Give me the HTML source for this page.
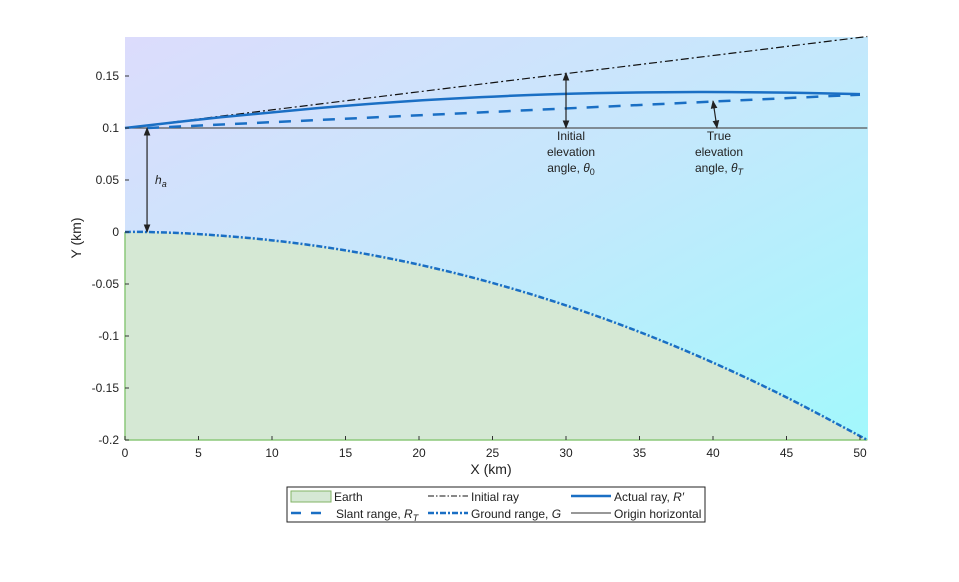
<!DOCTYPE html>
<html><head><meta charset="utf-8"><style>
body{margin:0;background:#fff;font-family:"Liberation Sans",Arial,sans-serif;}
svg text{font-family:"Liberation Sans",Arial,sans-serif;}
</style></head><body>
<svg id="chart" width="959" height="577" viewBox="0 0 959 577">
<defs>
<linearGradient id="bg" x1="0" y1="0" x2="1" y2="1">
<stop offset="0" stop-color="#dcdcfc"/><stop offset="0.5" stop-color="#c4e8fc"/><stop offset="1" stop-color="#a2f8fc"/>
</linearGradient>
<marker id="ah" viewBox="0 0 10 10" refX="9" refY="5" markerWidth="7" markerHeight="7" orient="auto-start-reverse"><path d="M0,1 L10,5 L0,9 Z" fill="#222"/></marker>
</defs>
<rect x="125" y="37" width="743" height="403" fill="url(#bg)"/>
<g id="marks"></g>
<g id="axes"></g>
<text x="491" y="474" text-anchor="middle" font-size="14" fill="#222">X (km)</text>
<text x="81" y="238" text-anchor="middle" font-size="14" fill="#222" transform="rotate(-90 81 238)">Y (km)</text>
<text x="155" y="184" font-size="12" font-style="italic" fill="#222">h<tspan font-size="9" dy="3">a</tspan></text>
<g font-size="12" fill="#222" text-anchor="middle">
<text x="571" y="140">Initial</text><text x="571" y="156">elevation</text><text x="571" y="172">angle, <tspan font-style="italic">θ</tspan><tspan font-size="9" dy="3">0</tspan></text></g>
<g font-size="12" fill="#222" text-anchor="middle">
<text x="719" y="140">True</text><text x="719" y="156">elevation</text><text x="719" y="172">angle, <tspan font-style="italic">θ</tspan><tspan font-size="9" dy="3" font-style="italic">T</tspan></text></g>
<g>
<rect x="287" y="487" width="418" height="35" fill="#fff" stroke="#222" stroke-width="1"/>
<g font-size="12" fill="#222">
<rect x="291" y="491" width="40" height="11" fill="#d5e8d4" stroke="#82b366"/>
<text x="334" y="501">Earth</text>
<line x1="428" y1="496" x2="468" y2="496" stroke="#111" stroke-dasharray="6,2,1.5,2"/>
<text x="471" y="501">Initial ray</text>
<line x1="571" y1="496" x2="611" y2="496" stroke="#1a6fc4" stroke-width="2.5"/>
<text x="614" y="501">Actual ray, <tspan font-style="italic">R′</tspan></text>
<line x1="291" y1="513" x2="331" y2="513" stroke="#1a6fc4" stroke-width="2.5" stroke-dasharray="10,10"/>
<text x="336" y="518">Slant range, <tspan font-style="italic">R</tspan><tspan font-size="9" dy="3" font-style="italic">T</tspan></text>
<line x1="428" y1="513" x2="468" y2="513" stroke="#1a6fc4" stroke-width="2.5" stroke-dasharray="6,2,2,2"/>
<text x="471" y="518">Ground range, <tspan font-style="italic">G</tspan></text>
<line x1="571" y1="513" x2="611" y2="513" stroke="#777" stroke-width="1.5"/>
<text x="614" y="518">Origin horizontal</text>
</g></g>
</svg>
<script>
const xTicks=[0,5,10,15,20,25,30,35,40,45,50];
const yTicks=[-0.2,-0.15,-0.1,-0.05,0,0.05,0.1,0.15];
const yTickLabels=["-0.2","-0.15","-0.1","-0.05","0","0.05","0.1","0.15"];
const earthX=[0,1.5,5,10,15,20,25,30,35,40,45,50.5];
const earthY=[0,0,-0.002,-0.008,-0.0177,-0.0314,-0.049,-0.0706,-0.0961,-0.1256,-0.159,-0.2];
const initX=[0,50.5];
const initY=[0.1,0.188];
const actualX=[0,6.5,13,19.5,26,32,39,45,50];
const actualY=[0.1,0.1103,0.119,0.126,0.1308,0.1335,0.1346,0.1340,0.1326];
const slantX=[1.5,50];
const slantY=[0.1,0.132];
const horizX=[0,50.5];
const horizY=[0.1,0.1];
const arrowX=[1.5,30,40];
const arrowY0=[0.1,0.1,0.1];
const arrowY1=[0,0.153,0.126];

const X=v=>125+v*14.7;
const Y=v=>232-v*1040;
const NS="http://www.w3.org/2000/svg";
const marks=document.getElementById('marks'),axes=document.getElementById('axes');
function mk(tag,attrs,parent){const e=document.createElementNS(NS,tag);for(const k in attrs)e.setAttribute(k,attrs[k]);parent.appendChild(e);return e;}
function pts(xs,ys){return xs.map((x,i)=>X(x).toFixed(1)+','+Y(ys[i]).toFixed(1)).join(' ');}
function smooth(xs,ys){
 const p=xs.map((x,i)=>[X(x),Y(ys[i])]);
 let d='M'+p[0][0]+','+p[0][1];
 for(let i=0;i<p.length-1;i++){
  const p0=p[Math.max(0,i-1)],p1=p[i],p2=p[i+1],p3=p[Math.min(p.length-1,i+2)];
  const c1=[p1[0]+(p2[0]-p0[0])/6,p1[1]+(p2[1]-p0[1])/6];
  const c2=[p2[0]-(p3[0]-p1[0])/6,p2[1]-(p3[1]-p1[1])/6];
  d+=' C'+c1.join(',')+' '+c2.join(',')+' '+p2.join(',');
 }
 return d;
}

let earthD=smooth(earthX,earthY)+' L'+X(earthX[earthX.length-1])+','+Y(-0.2)+' L'+X(0)+','+Y(-0.2)+' Z';
let e=mk('path',{d:earthD,fill:'#d5e8d4',stroke:'none'},marks);


e=mk('line',{x1:X(0),y1:Y(0),x2:X(0),y2:Y(-0.2),stroke:'#8cc87a','stroke-width':1.5},marks);


e=mk('line',{x1:X(0),y1:Y(-0.2),x2:X(50.5),y2:Y(-0.2),stroke:'#8cc87a','stroke-width':1.5},marks);


e=mk('polyline',{points:pts(horizX,horizY),fill:'none',stroke:'#555','stroke-width':1.2},marks);


e=mk('path',{d:smooth(earthX,earthY),fill:'none',stroke:'#1a6fc4','stroke-width':2.5,'stroke-dasharray':'6,2,2,2'},marks);


e=mk('polyline',{points:pts(initX,initY),fill:'none',stroke:'#111','stroke-width':1.2,'stroke-dasharray':'8,3,2,3'},marks);


e=mk('polyline',{points:pts(slantX,slantY),fill:'none',stroke:'#1a6fc4','stroke-width':2.5,'stroke-dasharray':'12,10'},marks);


e=mk('path',{d:smooth(actualX,actualY),fill:'none',stroke:'#1a6fc4','stroke-width':2.5},marks);


arrowX.forEach((x,i)=>{
 const a=mk('line',{x1:X(x)+(i==2?4:0),y1:Y(arrowY0[i]),x2:X(x),y2:Y(arrowY1[i]),stroke:'#222','stroke-width':1.2,'marker-start':'url(#ah)','marker-end':'url(#ah)'},marks);
 
 
});
xTicks.forEach(t=>{
 const l=mk('line',{x1:X(t),y1:440,x2:X(t),y2:436,stroke:'#333'},axes);
 
 
 const tx=mk('text',{x:X(t),y:457,'text-anchor':'middle','font-size':12,fill:'#222'},axes);
 tx.textContent=t;
 
 
});
yTicks.forEach((t,i)=>{
 const l=mk('line',{x1:125,y1:Y(t),x2:129,y2:Y(t),stroke:'#333'},axes);
 
 
 const tx=mk('text',{x:119,y:Y(t)+4,'text-anchor':'end','font-size':12,fill:'#222'},axes);
 tx.textContent=yTickLabels[i];
 
 
});
</script>
</body></html>
